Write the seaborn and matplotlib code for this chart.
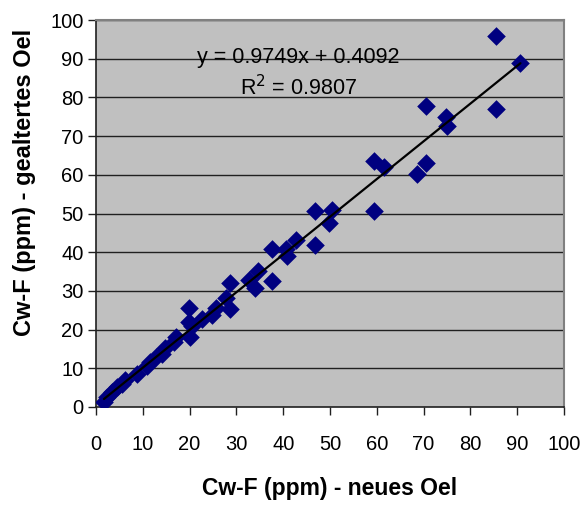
import numpy as np
import pandas as pd
import matplotlib
matplotlib.use("Agg")
import matplotlib.pyplot as plt
import seaborn as sns

# Data
x_neu = [85.4, 90.7, 85.4, 70.6, 74.8, 74.9, 70.6, 68.5, 59.5, 61.6,
         59.5, 46.7, 50.4, 49.7, 46.7, 42.7, 40.6, 40.8, 37.7, 37.7,
         34.7, 33.9, 32.6, 28.7, 28.7, 27.7, 25.7, 24.8, 22.7, 19.8,
         19.8, 20.5, 20.0, 17.0, 16.6, 14.7, 14.0, 12.9, 11.5, 10.8,
         8.8, 6.3, 5.6, 4.5, 3.5, 2.4, 1.7]
y_alt = [95.9, 88.8, 77.0, 77.8, 75.0, 72.6, 63.0, 60.1, 63.6, 62.1,
         50.7, 50.7, 50.9, 47.5, 41.8, 43.2, 40.8, 39.0, 40.7, 32.6,
         35.1, 30.7, 32.8, 32.0, 25.4, 28.1, 25.7, 23.8, 22.7, 25.6,
         21.9, 20.9, 18.2, 18.2, 16.9, 15.2, 13.7, 13.0, 11.5, 10.6,
         8.6, 7.0, 5.9, 5.2, 4.0, 2.7, 1.4]
slope = 0.9749
intercept = 0.4092
r2 = 0.9807
ticks = [0, 10, 20, 30, 40, 50, 60, 70, 80, 90, 100]
x_label = "Cw-F (ppm) - neues Oel"
y_label = "Cw-F (ppm) - gealtertes Oel"

df = pd.DataFrame({"x": x_neu, "y": y_alt})

sns.set_theme(style="white")
plt.rcParams['font.family'] = ['Liberation Sans', 'DejaVu Sans']
plt.rcParams['text.color'] = 'black'
plt.rcParams['axes.labelcolor'] = 'black'

fig = plt.figure(figsize=(5.85, 5.07), dpi=100)
ax = fig.add_axes([96/585, 1 - 407/507, (564-96)/585, (407-20)/507])
ax.set_facecolor("#C0C0C0")

for t in ticks[1:]:
    ax.axhline(t, color="#202020", lw=1.0, zorder=1)

sns.scatterplot(data=df, x="x", y="y", marker="D", s=90, color="#000080",
                edgecolor="#000080", linewidth=0, ax=ax, zorder=3)

xl = np.array([min(x_neu), max(x_neu)])
ax.plot(xl, slope * xl + intercept, color="black", lw=1.6, zorder=4)

ax.text(43.3, 90.3, f"y = {slope}x + {intercept}", ha="center", va="center",
        fontsize=15.5, color="black", zorder=5)
ax.text(43.3, 82.6, f"R$^2$ = {r2}", ha="center", va="center",
        fontsize=15.5, color="black", zorder=5)

ax.set_xlim(0, 100)
ax.set_ylim(0, 100)
ax.set_xticks(ticks)
ax.set_yticks(ticks)
ax.tick_params(axis="both", direction="out", length=6, width=1, color="#202020",
               labelsize=14.5, pad=3, labelcolor="black")
ax.tick_params(axis="x", pad=14)
ax.xaxis.set_ticks_position("bottom")
ax.yaxis.set_ticks_position("left")

for side in ["left", "bottom"]:
    ax.spines[side].set_color("#202020")
    ax.spines[side].set_linewidth(1.2)
for side in ["top", "right"]:
    ax.spines[side].set_color("#808080")
    ax.spines[side].set_linewidth(1.5)

ax.set_xlabel(x_label, fontsize=16.5, fontweight="bold", va="center")
ax.set_ylabel(y_label, fontsize=17, fontweight="bold", va="center")
ax.xaxis.set_label_coords(0.5, (407 - 488) / 387)
ax.yaxis.set_label_coords((25 - 96) / 468, (407 - 182) / 387)

fig.savefig("out.png", dpi=100)
